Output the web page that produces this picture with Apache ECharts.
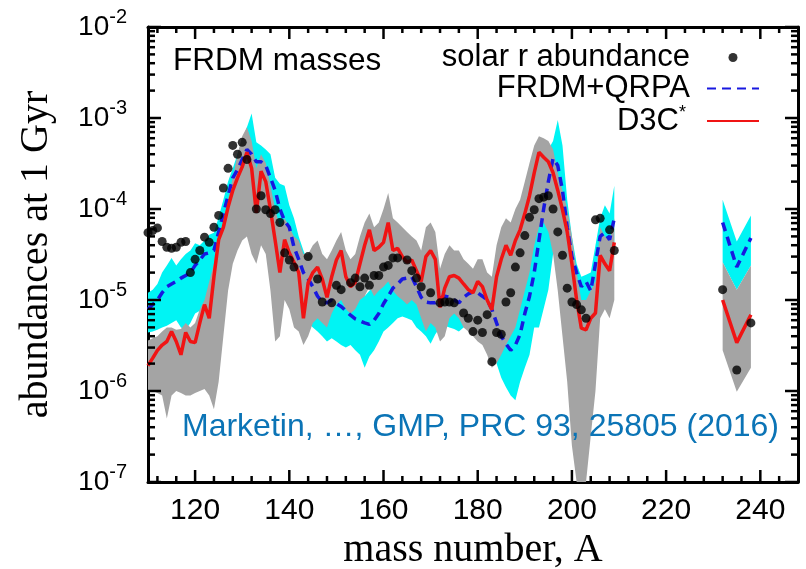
<!DOCTYPE html>
<html><head><meta charset="utf-8">
<script src="https://cdn.jsdelivr.net/npm/echarts@6/dist/echarts.min.js"></script>
<style>html,body{margin:0;padding:0;background:#fff}#c{width:806px;height:569px}</style>
</head><body><div id="c"></div>
<script>
// ---------------- data ----------------
const massMain = [110,111,112,113,114,115,116,117,118,119,120,121,122,123,124,125,126,127,128,129,
130,131,132,133,134,135,136,137,138,139,140,141,142,143,144,145,146,147,148,149,
150,151,152,153,154,155,156,157,158,159,160,161,162,163,164,165,166,167,168,169,
170,171,172,173,174,175,176,177,178,179,180,181,182,183,184,185,186,187,188,189,
190,191,192,193,194,195,196,197,198,199,200,201,202,203,204,205,206,207,208,209];
const massRight = [232, 235, 238];
const solarMain = [5.5e-5,5.8e-5,6.2e-5,4.4e-5,3.8e-5,3.7e-5,3.8e-5,4.3e-5,4.4e-5,2.0e-5,
2.8e-5,3.5e-5,4.9e-5,4.3e-5,6.3e-5,8.5e-5,1.7e-4,2.8e-4,5.0e-4,4.0e-4,
5.4e-4,3.5e-4,null,1.0e-4,1.4e-4,9.8e-5,8.9e-5,9.8e-5,7.1e-5,3.3e-5,
2.75e-5,2.3e-5,null,null,3.0e-5,null,1.7e-5,9.5e-6,null,9.3e-6,
1.45e-5,1.3e-5,null,1.55e-5,1.74e-5,1.4e-5,1.74e-5,1.45e-5,1.86e-5,1.86e-5,
2.3e-5,2.4e-5,2.9e-5,2.9e-5,null,2.75e-5,2.1e-5,1.74e-5,1.4e-5,null,
1.2e-5,null,9.3e-6,9.5e-6,9.5e-6,9.3e-6,null,7.2e-6,6.3e-6,4.5e-6,
6.0e-6,4.4e-6,6.9e-6,2.1e-6,4.4e-6,4.2e-6,9.5e-6,1.2e-5,2.3e-5,3.3e-5,
5.1e-5,8.1e-5,9.8e-5,1.3e-4,1.35e-4,1.4e-4,1.0e-4,5.6e-5,3.1e-5,1.35e-5,
9.5e-6,8.9e-6,7.8e-6,6.3e-6,null,7.6e-5,7.9e-5,null,5.9e-5,3.5e-5];
const solarRight = [1.3e-5, 1.7e-6, 5.6e-6];
const frdmMain = [7.9e-6,8.9e-6,1.0e-5,1.2e-5,1.4e-5,1.5e-5,1.6e-5,1.74e-5,1.86e-5,2.0e-5,
2.4e-5,2.75e-5,3.2e-5,3.3e-5,3.5e-5,5.6e-5,8.9e-5,1.4e-4,2.2e-4,2.7e-4,
3.5e-4,4.5e-4,4.0e-4,3.3e-4,3.3e-4,3.0e-4,2.2e-4,1.6e-4,1.0e-4,7.4e-5,
6.3e-5,3.8e-5,2.8e-5,2.0e-5,1.7e-5,1.4e-5,1.1e-5,9.5e-6,9.3e-6,1.0e-5,
9.1e-6,8.5e-6,7.6e-6,6.8e-6,6.2e-6,5.9e-6,5.6e-6,5.4e-6,6.0e-6,7.1e-6,
9.1e-6,1.1e-5,1.35e-5,1.5e-5,1.7e-5,1.74e-5,1.8e-5,1.4e-5,1.07e-5,9.5e-6,
9.3e-6,9.3e-6,1.05e-5,1.1e-5,1.07e-5,1.0e-5,9.3e-6,1.07e-5,1.17e-5,1.23e-5,
1.2e-5,1.1e-5,1.0e-5,7.9e-6,5.6e-6,4.0e-6,3.3e-6,2.8e-6,3.2e-6,4.2e-6,
7.1e-6,1.1e-5,2.0e-5,4.5e-5,1.0e-4,2.0e-4,3.6e-4,3.0e-4,1.6e-4,6.3e-5,
3.0e-5,2.0e-5,1.4e-5,1.6e-5,1.26e-5,2.5e-5,5.0e-5,5.5e-5,4.6e-5,7.9e-5];
const frdmRight = [7.1e-5, 2.3e-5, 4.8e-5];
const d3cMain = [1.9e-6,2.3e-6,2.8e-6,3.2e-6,3.5e-6,4.5e-6,3.5e-6,2.5e-6,4.4e-6,3.5e-6,
3.4e-6,5.6e-6,8.9e-6,6.3e-6,1.8e-5,4.6e-5,6.3e-5,1.05e-4,1.6e-4,2.2e-4,
2.9e-4,4.2e-4,2.8e-4,9.1e-5,2.6e-4,2.0e-4,9.8e-5,4.5e-5,2.0e-5,4.6e-5,
3.3e-5,2.6e-5,2.0e-5,6.3e-6,1.55e-5,2.0e-5,2.3e-5,1.7e-5,1.07e-5,1.8e-5,
2.75e-5,3.5e-5,1.8e-5,1.4e-5,1.55e-5,2.5e-5,4.0e-5,5.9e-5,3.5e-5,3.8e-5,
4.3e-5,7.1e-5,3.5e-5,3.7e-5,3.0e-5,2.6e-5,2.75e-5,2.1e-5,1.6e-5,3.0e-5,
3.5e-5,2.8e-5,8.3e-6,1.35e-5,1.8e-5,1.86e-5,1.74e-5,1.5e-5,1.3e-5,1.2e-5,
1.6e-5,1.4e-5,1.0e-5,7.8e-6,1.8e-5,2.8e-5,4.0e-5,3.1e-5,4.5e-5,5.9e-5,
8.9e-5,1.4e-4,2.5e-4,4.2e-4,3.7e-4,3.3e-4,2.5e-4,1.6e-4,9.8e-5,5.6e-5,
2.5e-5,1.0e-5,4.9e-6,4.7e-6,6.3e-6,7.2e-6,3.1e-5,2.5e-5,2.1e-5,4.3e-5];
const d3cRight = [1.0e-5, 3.4e-6, 6.9e-6];
const frdmHiMain = [1.2e-5,1.3e-5,1.5e-5,2.0e-5,2.4e-5,2.9e-5,2.4e-5,2.8e-5,3.2e-5,3.5e-5,
4.2e-5,4.0e-5,4.5e-5,5.2e-5,5.5e-5,8.1e-5,1.26e-4,2.0e-4,2.8e-4,4.0e-4,
5.6e-4,7.9e-4,1.12e-3,5.4e-4,5.0e-4,4.5e-4,4.0e-4,2.2e-4,1.9e-4,1.8e-4,
1.1e-4,7.9e-5,5.0e-5,3.5e-5,2.5e-5,2.0e-5,1.6e-5,1.4e-5,1.4e-5,1.5e-5,
1.6e-5,1.4e-5,1.26e-5,1.4e-5,1.2e-5,1.3e-5,1.1e-5,1.26e-5,1.4e-5,1.6e-5,
1.7e-5,2.0e-5,2.2e-5,2.4e-5,2.5e-5,2.8e-5,2.6e-5,2.2e-5,1.9e-5,1.6e-5,
1.7e-5,1.6e-5,1.8e-5,1.9e-5,1.7e-5,1.6e-5,1.7e-5,1.8e-5,2.0e-5,2.2e-5,
2.0e-5,1.9e-5,1.7e-5,1.4e-5,1.26e-5,1.3e-5,1.4e-5,1.26e-5,1.2e-5,2.0e-5,
3.2e-5,5.0e-5,8.9e-5,1.4e-4,2.5e-4,4.5e-4,5.6e-4,9.5e-4,5.0e-4,1.26e-4,
5.0e-5,2.5e-5,1.8e-5,1.9e-5,2.0e-5,4.0e-5,7.9e-5,1.1e-4,8.9e-5,1.8e-4];
const frdmLoMain = [4.4e-6,4.5e-6,4.7e-6,5.0e-6,5.2e-6,5.6e-6,6.0e-6,5.0e-6,4.7e-6,5.6e-6,
7.1e-6,7.6e-6,8.9e-6,1.0e-5,1.7e-5,2.8e-5,3.2e-5,2.8e-5,4.0e-5,7.9e-5,
1.0e-4,1.4e-4,1.4e-4,1.1e-4,1.0e-4,7.9e-5,5.0e-5,3.2e-5,2.0e-5,1.6e-5,
1.4e-5,1.1e-5,7.9e-6,6.3e-6,5.6e-6,5.0e-6,4.5e-6,4.0e-6,3.5e-6,3.8e-6,
3.5e-6,3.2e-6,3.0e-6,3.2e-6,2.8e-6,2.5e-6,1.8e-6,2.4e-6,2.8e-6,3.5e-6,
4.5e-6,5.0e-6,5.6e-6,6.3e-6,6.6e-6,6.3e-6,6.0e-6,5.0e-6,4.5e-6,4.0e-6,
3.3e-6,4.2e-6,5.0e-6,5.2e-6,5.0e-6,4.8e-6,4.5e-6,5.0e-6,5.6e-6,6.3e-6,
6.0e-6,5.2e-6,4.0e-6,2.8e-6,2.0e-6,1.4e-6,1.1e-6,8.9e-7,7.9e-7,1.26e-6,
1.8e-6,2.5e-6,5.0e-6,5.0e-6,8.0e-6,1.3e-5,3.2e-5,4.0e-5,2.0e-5,1.26e-5,
6.3e-6,4.5e-6,4.0e-6,4.5e-6,4.0e-6,7.1e-6,1.4e-5,2.0e-5,2.5e-5,3.2e-5];
const frdmHiRight = [1.26e-4, 4.4e-5, 8.5e-5];
const frdmLoRight = [2.6e-5, 1.3e-5, 2.4e-5];
const d3cHiMain = [3.6e-6,3.8e-6,4.0e-6,4.5e-6,5.0e-6,5.0e-6,4.7e-6,4.8e-6,5.6e-6,5.0e-6,
5.6e-6,7.9e-6,1.0e-5,1.6e-5,2.5e-5,5.0e-5,7.1e-5,1.26e-4,2.2e-4,4.0e-4,
6.3e-4,7.9e-4,5.6e-4,2.8e-4,4.0e-4,3.2e-4,1.8e-4,1.0e-4,6.3e-5,7.9e-5,
6.3e-5,5.0e-5,4.5e-5,3.2e-5,3.2e-5,4.0e-5,4.5e-5,3.2e-5,2.8e-5,3.5e-5,
4.5e-5,5.6e-5,3.5e-5,2.8e-5,3.2e-5,5.0e-5,7.1e-5,8.9e-5,6.3e-5,7.1e-5,
1.0e-4,1.5e-4,7.9e-5,7.1e-5,6.3e-5,5.6e-5,5.0e-5,4.5e-5,3.5e-5,6.3e-5,
7.1e-5,5.6e-5,2.2e-5,3.2e-5,4.0e-5,3.5e-5,3.5e-5,2.8e-5,2.5e-5,2.2e-5,
2.8e-5,2.8e-5,2.0e-5,1.8e-5,4.0e-5,6.3e-5,7.9e-5,7.1e-5,1.0e-4,1.26e-4,
2.0e-4,3.2e-4,5.0e-4,6.3e-4,6.0e-4,5.6e-4,4.5e-4,2.5e-4,1.6e-4,1.0e-4,
5.0e-5,2.0e-5,1.0e-5,1.0e-5,1.26e-5,1.6e-5,6.3e-5,5.0e-5,4.5e-5,7.9e-5];
const d3cLoMain = [1.0e-6,1.0e-6,9.5e-7,8.9e-7,5.0e-7,8.9e-7,1.0e-6,9.5e-7,8.9e-7,8.9e-7,
9.5e-7,1.0e-6,1.05e-6,8.9e-7,6.3e-7,1.26e-6,4.0e-6,1.26e-5,2.5e-5,3.5e-5,
4.5e-5,5.0e-5,3.2e-5,2.5e-5,4.0e-5,3.2e-5,1.26e-5,3.5e-6,4.0e-6,1.0e-5,
7.9e-6,5.0e-6,4.5e-6,3.2e-6,4.0e-6,5.6e-6,6.3e-6,5.6e-6,5.0e-6,7.1e-6,
8.9e-6,1.0e-5,7.9e-6,7.1e-6,7.9e-6,1.0e-5,1.1e-5,1.4e-5,1.1e-5,1.26e-5,
1.4e-5,1.6e-5,1.26e-5,1.1e-5,1.0e-5,8.9e-6,1.0e-5,8.9e-6,6.3e-6,4.5e-6,
5.6e-6,5.0e-6,3.5e-6,4.0e-6,6.3e-6,7.1e-6,6.3e-6,5.0e-6,4.5e-6,4.0e-6,
3.5e-6,3.2e-6,2.5e-6,1.8e-6,2.0e-6,2.5e-6,3.2e-6,4.0e-6,5.0e-6,7.9e-6,
1.26e-5,2.0e-5,4.0e-5,6.3e-5,7.1e-5,5.6e-5,3.2e-5,1.26e-5,4.0e-6,1.26e-6,
2.5e-7,1.0e-7,1.0e-7,1.0e-7,3.2e-7,1.0e-6,6.3e-6,7.9e-6,6.3e-6,1.0e-5];
const d3cHiRight = [2.6e-5, 1.3e-5, 2.4e-5];
const d3cLoRight = [2.8e-6, 9.8e-7, 1.8e-6];

// axis ticks
const xMajorTicks = [120, 140, 160, 180, 200, 220, 240];
const xMinorTicks = [112,116,124,128,132,136,144,148,152,156,164,168,172,176,184,188,192,196,204,208,212,216,224,228,232,236,244];
const yMajorTicks = [1e-7, 1e-6, 1e-5, 1e-4, 1e-3, 1e-2];
const yMinorTicks = [];
for (let e = -7; e < -2; e++) for (let m = 2; m <= 9; m++) yMinorTicks.push(+(m * Math.pow(10, e)).toPrecision(3));

// ---------------- styling ----------------
const SANS = "'Liberation Sans', Arial, Helvetica, sans-serif";
const SERIF = "'Liberation Serif', 'Times New Roman', serif";
const CYAN = '#00F4F4', GREY = '#A4A4A4', RED = '#F01414', BLUE = '#1818E0';

function pairs(mass, vals) { return mass.map((a, i) => [a, vals[i]]).filter(p => p[1] != null); }
function band(mass, lo, hi, color) {
  return {
    type: 'custom', xAxisIndex: 0, yAxisIndex: 0, silent: true, clip: true, z: 1,
    data: mass.map((a, i) => [a, lo[i], hi[i]]),
    encode: { x: 0, y: [1, 2] },
    renderItem: function (params, api) {
      if (params.dataIndex !== 0) return null;
      const top = [], bot = [];
      for (let i = 0; i < mass.length; i++) {
        top.push(api.coord([mass[i], hi[i]]));
        bot.push(api.coord([mass[i], lo[i]]));
      }
      return { type: 'polygon', shape: { points: top.concat(bot.reverse()) }, style: { fill: color } };
    }
  };
}
const lineAx = { show: true, onZero: false, lineStyle: { color: '#000', width: 3 } };

const chart = echarts.init(document.getElementById('c'), null, { renderer: 'canvas' });
chart.setOption({
  animation: false,
  backgroundColor: '#fff',
  grid: { left: 148, right: 8, top: 27, bottom: 87, containLabel: false, outerBoundsMode: 'none' },
  title: [
    { text: 'FRDM masses', left: 173, top: 45, padding: 0,
      textStyle: { fontSize: 31.5, fontWeight: 'normal', fontFamily: SANS, color: '#000' } },
    { text: 'Marketin, …, GMP, PRC 93, 25805 (2016)', left: 182, top: 411, padding: 0,
      textStyle: { fontSize: 32, fontWeight: 'normal', fontFamily: SANS, color: '#0B74B6' } }
  ],
  legend: {
    orient: 'vertical', align: 'right', right: 41, top: 37, itemGap: 0,
    itemWidth: 52, itemHeight: 9, selectedMode: false,
    data: [{ name: 'solar r abundance', icon: 'circle' },
           { name: 'FRDM+QRPA', itemStyle: { opacity: 0 } },
           { name: 'D3C*', itemStyle: { opacity: 0 } }],
    formatter: n => n === 'D3C*' ? '{m|D3C}{s|*}' : '{n|' + n + '}',
    textStyle: {
      color: '#000', fontSize: 31, fontFamily: SANS,
      rich: {
        n: { fontSize: 31, fontFamily: SANS, color: '#000', lineHeight: 34, padding: [0, 12, 0, 0] },
        m: { fontSize: 31, fontFamily: SANS, color: '#000', lineHeight: 34 },
        s: { fontSize: 18, fontFamily: SANS, color: '#000', lineHeight: 12, verticalAlign: 'top', padding: [0, 16, 0, 0] }
      }
    }
  },
  xAxis: [
    { type: 'value', min: 110, max: 248, position: 'bottom', axisLine: lineAx,
      axisTick: { show: false }, splitLine: { show: false },
      axisLabel: { customValues: xMajorTicks, fontSize: 30, fontFamily: SANS, color: '#000', margin: 14 },
      name: 'mass number, A', nameLocation: 'middle', nameGap: 30,
      nameTextStyle: { fontSize: 40, fontFamily: SERIF, color: '#000' } },
    { type: 'value', min: 110, max: 248, position: 'top', axisLine: lineAx,
      axisTick: { show: false }, axisLabel: { show: false }, splitLine: { show: false } }
  ],
  yAxis: [
    { type: 'log', logBase: 10, min: 1e-7, max: 1e-2, position: 'left', axisLine: lineAx,
      axisTick: { show: false }, splitLine: { show: false },
      axisLabel: {
        margin: 21, color: '#000',
        formatter: v => '{b|10}{e|' + Math.round(Math.log10(v)) + '}',
        rich: {
          b: { fontSize: 28, fontFamily: SANS, color: '#000', lineHeight: 40 },
          e: { fontSize: 20, fontFamily: SANS, color: '#000', lineHeight: 20, verticalAlign: 'top' }
        }
      },
      name: 'abundances at 1 Gyr', nameLocation: 'middle', nameGap: 92,
      nameTextStyle: { fontSize: 40, fontFamily: SERIF, color: '#000' } },
    { type: 'log', logBase: 10, min: 1e-7, max: 1e-2, position: 'right', axisLine: lineAx,
      axisTick: { show: false }, axisLabel: { show: false }, splitLine: { show: false } }
  ],
  series: [
    band(massMain, frdmLoMain, frdmHiMain, CYAN),
    band(massRight, frdmLoRight, frdmHiRight, CYAN),
    band(massMain, d3cLoMain, d3cHiMain, GREY),
    band(massRight, d3cLoRight, d3cHiRight, GREY),
    { name: 'FRDM+QRPA', type: 'line', z: 3, data: pairs(massMain, frdmMain), symbol: 'none',
      lineStyle: { color: BLUE, width: 3.5, type: [9, 6] }, itemStyle: { color: BLUE } },
    { name: 'FRDM+QRPA', type: 'line', z: 3, data: pairs(massRight, frdmRight), symbol: 'none',
      lineStyle: { color: BLUE, width: 3.5, type: [9, 6] }, itemStyle: { color: BLUE } },
    { name: 'D3C*', type: 'line', z: 4, data: pairs(massMain, d3cMain), symbol: 'none',
      lineStyle: { color: RED, width: 3.5 }, itemStyle: { color: RED } },
    { name: 'D3C*', type: 'line', z: 4, data: pairs(massRight, d3cRight), symbol: 'none',
      lineStyle: { color: RED, width: 3.5 }, itemStyle: { color: RED } },
    { name: 'solar r abundance', type: 'scatter', z: 5, symbol: 'circle', symbolSize: 9,
      data: pairs(massMain, solarMain).concat(pairs(massRight, solarRight)),
      itemStyle: { color: '#000' } }
  ]
});

// inside frame ticks on all four sides, positioned through the axes' own scales
(function () {
  const X = v => chart.convertToPixel({ xAxisIndex: 0 }, v);
  const Y = v => chart.convertToPixel({ yAxisIndex: 0 }, v);
  const xl = X(110), xr = X(248), yb = Y(1e-7), yt = Y(1e-2);
  const els = [];
  const add = (x1, y1, x2, y2) => els.push({ type: 'line', z: 10,
    shape: { x1, y1, x2, y2 }, style: { stroke: '#000', lineWidth: 2.5 } });
  xMajorTicks.forEach(v => { const x = X(v); add(x, yb, x, yb - 12); add(x, yt, x, yt + 12); });
  xMinorTicks.forEach(v => { const x = X(v); add(x, yb, x, yb - 6); add(x, yt, x, yt + 6); });
  yMajorTicks.forEach(v => { const y = Y(v); add(xl, y, xl + 13, y); add(xr, y, xr - 13, y); });
  yMinorTicks.forEach(v => { const y = Y(v); add(xl, y, xl + 7, y); add(xr, y, xr - 7, y); });
  chart.setOption({ graphic: els });
})();
</script></body></html>
